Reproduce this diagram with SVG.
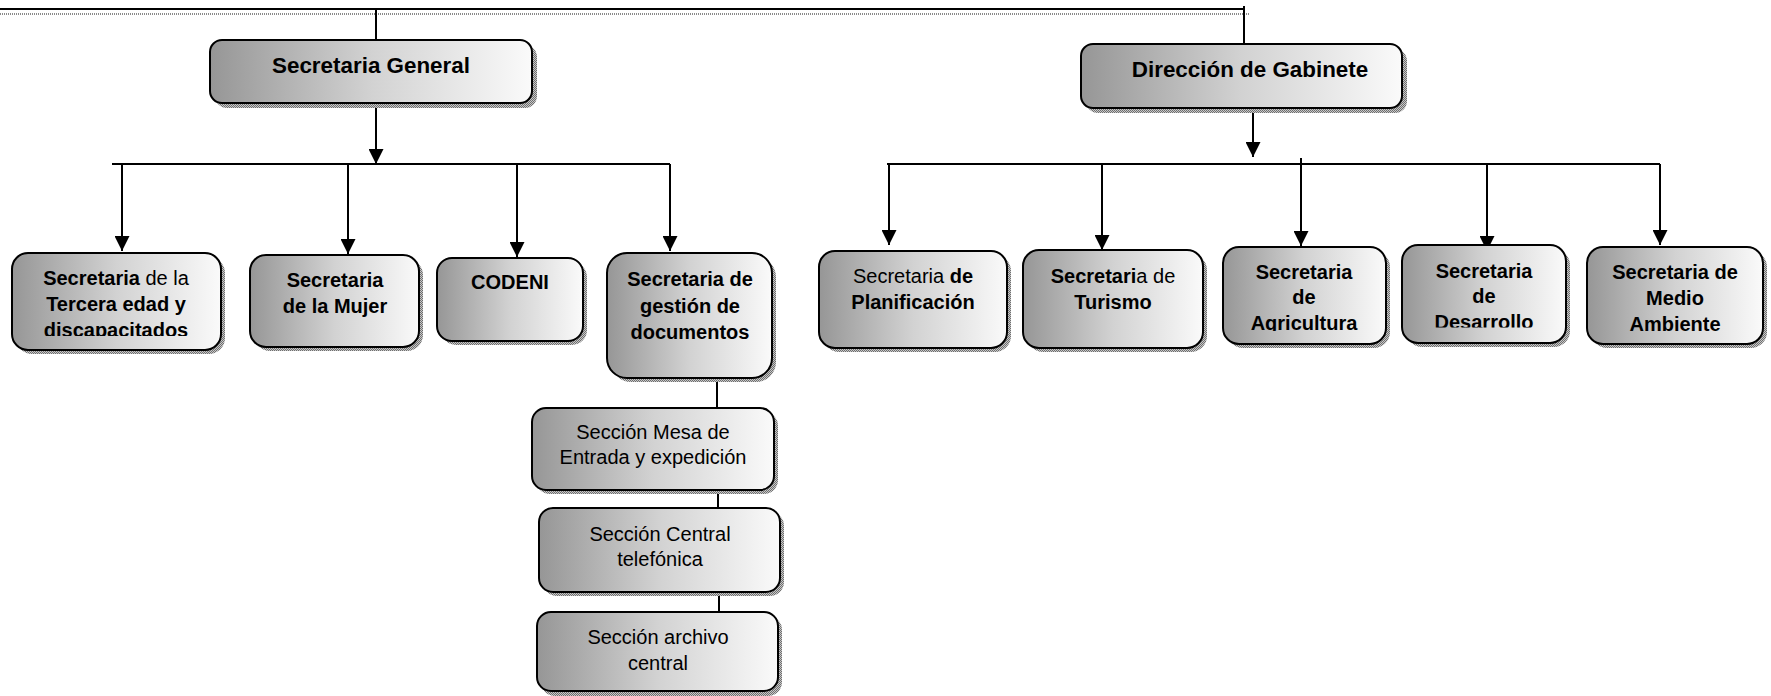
<svg xmlns="http://www.w3.org/2000/svg" width="1771" height="696" viewBox="0 0 1771 696">
  <defs>
    <linearGradient id="boxFill" x1="0" y1="0" x2="1" y2="0">
      <stop offset="0" stop-color="#969696"/>
      <stop offset="0.5" stop-color="#d2d2d2"/>
      <stop offset="1" stop-color="#fafafa"/>
    </linearGradient>
    <pattern id="stipple" width="2" height="2" patternUnits="userSpaceOnUse">
      <rect width="2" height="2" fill="#c8c8c8"/>
      <rect width="1" height="1" fill="#6e6e6e"/>
      <rect x="1" y="1" width="1" height="1" fill="#6e6e6e"/>
    </pattern>
    <marker id="arrow" markerUnits="userSpaceOnUse" markerWidth="15" markerHeight="15" viewBox="0 0 14 14" refX="14" refY="7" orient="auto">
      <path d="M0,0 L14,7 L0,14 z" fill="#000"/>
    </marker>
    <clipPath id="clipTercera"><rect x="0" y="240" width="240" height="96"/></clipPath>
    <clipPath id="clipAgri"><rect x="1210" y="240" width="190" height="91"/></clipPath>
    <clipPath id="clipDesa"><rect x="1390" y="240" width="190" height="87.5"/></clipPath>
    <clipPath id="clipMedio"><rect x="1575" y="240" width="196" height="91.5"/></clipPath>
  </defs>
  <style>
    .shadow { fill: url(#stipple); }
    .box { fill: url(#boxFill); stroke: #000; stroke-width: 2; }
    .conn { fill: none; stroke: #000; stroke-width: 2; }
    .arr { marker-end: url(#arrow); }
    text { font-family: "Liberation Sans", Arial, sans-serif; font-size: 20px; fill: #000; text-anchor: middle; }
    .big { font-size: 22.4px; font-weight: bold; }
    .b { font-weight: bold; }
  </style>

  <!-- connectors -->
  <g id="connectors">
    <line x1="0" y1="14" x2="1250" y2="14" stroke="#8a8a8a" stroke-width="2" stroke-dasharray="1 1"/>
    <path class="conn" d="M0 9 H1244"/>
    <path class="conn" d="M376 9 V40"/>
    <path class="conn" d="M1244 6 V44"/>
    <!-- Secretaria General branch -->
    <path class="conn arr" d="M376 103 V164"/>
    <path class="conn" d="M112 164 H670"/>
    <path class="conn arr" d="M122 164 V251"/>
    <path class="conn arr" d="M348 164 V254"/>
    <path class="conn arr" d="M517 164 V257"/>
    <path class="conn arr" d="M670 164 V251"/>
    <path class="conn" d="M717 378 V408"/>
    <path class="conn" d="M718 490 V508"/>
    <path class="conn" d="M719 592 V612"/>
    <!-- Dirección de Gabinete branch -->
    <path class="conn arr" d="M1253 108 V157"/>
    <path class="conn" d="M887 164 H1660"/>
    <path class="conn arr" d="M889 164 V245"/>
    <path class="conn arr" d="M1102 164 V250"/>
    <path class="conn arr" d="M1301 158 V246"/>
    <path class="conn arr" d="M1487 164 V251"/>
    <path class="conn arr" d="M1660 164 V245"/>
  </g>

  <g id="secretaria-general">
    <rect class="shadow" x="215" y="45" width="322" height="63" rx="12"/>
    <rect class="box" x="210" y="40" width="322" height="63" rx="12"/>
    <text class="big" x="371" y="73">Secretaria General</text>
  </g>

  <g id="direccion-gabinete">
    <rect class="shadow" x="1086" y="49" width="321" height="64" rx="12"/>
    <rect class="box" x="1081" y="44" width="321" height="64" rx="12"/>
    <text class="big" x="1250" y="77">Dirección de Gabinete</text>
  </g>

  <g id="sec-tercera-edad">
    <rect class="shadow" x="16" y="257" width="209" height="97" rx="16"/>
    <rect class="box" x="12" y="253" width="209" height="97" rx="16"/>
    <g clip-path="url(#clipTercera)">
      <text x="116" y="285"><tspan class="b">Secretaria</tspan> de la</text>
      <text class="b" x="116" y="311">Tercera edad y</text>
      <text class="b" x="116" y="337">discapacitados</text>
    </g>
  </g>

  <g id="sec-mujer">
    <rect class="shadow" x="254" y="259" width="169" height="92" rx="16"/>
    <rect class="box" x="250" y="255" width="169" height="92" rx="16"/>
    <text class="b" x="335" y="287">Secretaria</text>
    <text class="b" x="335" y="313">de la Mujer</text>
  </g>

  <g id="codeni">
    <rect class="shadow" x="441" y="262" width="146" height="83" rx="15"/>
    <rect class="box" x="437" y="258" width="146" height="83" rx="15"/>
    <text class="b" x="510" y="289">CODENI</text>
  </g>

  <g id="sec-gestion-documentos">
    <rect class="shadow" x="611" y="257" width="165" height="125" rx="20"/>
    <rect class="box" x="607" y="253" width="165" height="125" rx="20"/>
    <text class="b" x="690" y="286">Secretaria de</text>
    <text class="b" x="690" y="313">gestión de</text>
    <text class="b" x="690" y="339">documentos</text>
  </g>

  <g id="seccion-mesa-entrada">
    <rect class="shadow" x="536" y="412" width="242" height="82" rx="14"/>
    <rect class="box" x="532" y="408" width="242" height="82" rx="14"/>
    <text x="653" y="439">Sección Mesa de</text>
    <text x="653" y="464">Entrada y expedición</text>
  </g>

  <g id="seccion-central-telefonica">
    <rect class="shadow" x="543" y="512" width="241" height="84" rx="14"/>
    <rect class="box" x="539" y="508" width="241" height="84" rx="14"/>
    <text x="660" y="541">Sección Central</text>
    <text x="660" y="566">telefónica</text>
  </g>

  <g id="seccion-archivo-central">
    <rect class="shadow" x="541" y="616" width="241" height="80" rx="14"/>
    <rect class="box" x="537" y="612" width="241" height="79" rx="14"/>
    <text x="658" y="644">Sección archivo</text>
    <text x="658" y="670">central</text>
  </g>

  <g id="sec-planificacion">
    <rect class="shadow" x="823" y="255" width="188" height="97" rx="16"/>
    <rect class="box" x="819" y="251" width="188" height="97" rx="16"/>
    <text x="913" y="283">Secretaria <tspan class="b">de</tspan></text>
    <text class="b" x="913" y="309">Planificación</text>
  </g>

  <g id="sec-turismo">
    <rect class="shadow" x="1027" y="254" width="180" height="98" rx="16"/>
    <rect class="box" x="1023" y="250" width="180" height="98" rx="16"/>
    <text x="1113" y="283"><tspan class="b">Secretari</tspan>a de</text>
    <text class="b" x="1113" y="309">Turismo</text>
  </g>

  <g id="sec-agricultura">
    <rect class="shadow" x="1227" y="251" width="163" height="97" rx="16"/>
    <rect class="box" x="1223" y="247" width="163" height="97" rx="16"/>
    <g clip-path="url(#clipAgri)">
      <text class="b" x="1304" y="279">Secretaria</text>
      <text class="b" x="1304" y="304">de</text>
      <text class="b" x="1304" y="330">Agricultura</text>
    </g>
  </g>

  <g id="sec-desarrollo">
    <rect class="shadow" x="1406" y="249" width="164" height="98" rx="16"/>
    <rect class="box" x="1402" y="245" width="164" height="98" rx="16"/>
    <g clip-path="url(#clipDesa)">
      <text class="b" x="1484" y="278">Secretaria</text>
      <text class="b" x="1484" y="303">de</text>
      <text class="b" x="1484" y="329">Desarrollo</text>
    </g>
  </g>

  <g id="sec-medio-ambiente">
    <rect class="shadow" x="1591" y="251" width="176" height="97" rx="16"/>
    <rect class="box" x="1587" y="247" width="176" height="97" rx="16"/>
    <g clip-path="url(#clipMedio)">
      <text class="b" x="1675" y="279">Secretaria de</text>
      <text class="b" x="1675" y="305">Medio</text>
      <text class="b" x="1675" y="331">Ambiente</text>
    </g>
  </g>
</svg>
